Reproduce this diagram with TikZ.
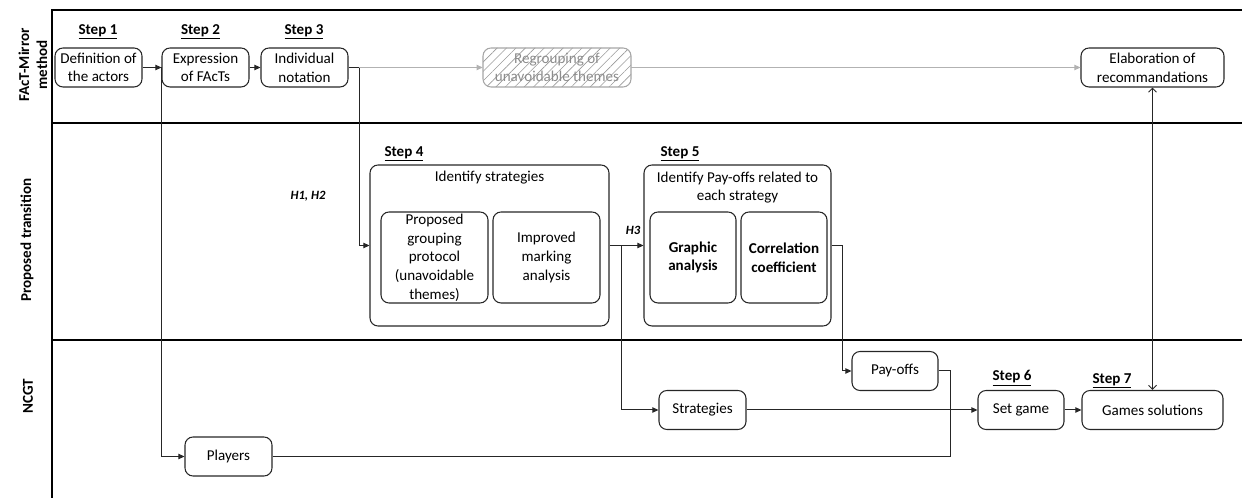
\documentclass[tikz,border=0pt]{standalone}
\usepackage{fontspec}
\setmainfont{Carlito}
\usetikzlibrary{arrows.meta,patterns.meta}

\begin{document}
\begin{tikzpicture}[x=0.75pt,y=-0.75pt,
  every node/.style={font=\fontsize{11.3}{14}\selectfont},
  boxw/.style={minimum width=#1*0.75pt},
  boxh/.style={minimum height=#1*0.75pt},
  box/.style={draw=black!85, line width=0.8pt, rounded corners=6pt, align=center,
    inner sep=0pt, minimum height=29.25pt},
  greybox/.style={box, draw=black!35, text=black!45,
    pattern={Lines[angle=45,distance=5pt,line width=0.45pt]}, pattern color=black!40},
  bold/.style={font=\fontsize{11.3}{14}\selectfont\bfseries},
  hyp/.style={font=\fontsize{9.5}{11}\selectfont\bfseries\itshape},
  lanelabel/.style={font=\fontsize{11.3}{13.5}\selectfont\bfseries, rotate=90, align=center},
  lane/.style={line width=2.2pt, black},
  line/.style={draw=black!85, line width=0.75pt},
  flow/.style={line, -{Triangle[length=4.5pt,width=4pt]}},
  greyflow/.style={draw=black!30, line width=0.75pt, -{Triangle[length=4.5pt,width=4pt]}},
  dflow/.style={line, {Straight Barb[length=3pt,width=6pt]}-{Straight Barb[length=3pt,width=6pt]}}]
  \useasboundingbox (0,0) rectangle (1242,498);

  % Lanes
  \draw[lane] (52,498) -- (52,10) -- (1242,10);
  \draw[lane] (52,123) -- (1242,123);
  \draw[lane] (52,340) -- (1242,340);
  \node[lanelabel] (lane1) at (33,65) {FAcT-Mirror\\method};
  \node[lanelabel] (lane2) at (27,240) {Proposed transition};
  \node[lanelabel] (lane3) at (28,396) {NCGT};

  % Step labels
  \node[bold] (s1) at (98,32) {\underline{Step 1}};
  \node[bold] (s2) at (200.5,32) {\underline{Step 2}};
  \node[bold] (s3) at (304,32) {\underline{Step 3}};
  \node[bold] (s4) at (404,154) {\underline{Step 4}};
  \node[bold] (s5) at (680,154) {\underline{Step 5}};
  \node[bold] (s6) at (1012,378) {\underline{Step 6}};
  \node[bold] (s7) at (1112,381) {\underline{Step 7}};

  % Top row: FAcT-Mirror method
  \node[box, boxw=87] (def) at (98.5,67.5) {Definition of\\the actors};
  \node[box, boxw=87] (expr) at (205.5,67.5) {Expression\\of FAcTs};
  \node[box, boxw=87] (indiv) at (304.5,67.5) {Individual\\notation};
  \node[greybox, boxw=148] (regroup) at (557,67.5) {Regrouping of\\unavoidable themes};
  \node[box, boxw=143] (elab) at (1152.5,67.5) {Elaboration of\\recommandations};

  % Middle row: proposed transition
  \node[box, boxw=239, boxh=161] (step4) at (489.5,245.5) {};
  \node (ident4) at (489.5,178) {Identify strategies};
  \node[box, boxw=107, boxh=91] (group) at (434.5,257.5) {Proposed\\grouping\\protocol\\(unavoidable\\themes)};
  \node[box, boxw=107, boxh=91] (mark) at (546.5,257.5) {Improved\\marking\\analysis};
  \node[box, boxw=187, boxh=161] (step5) at (737.5,245.5) {};
  \node[align=center] (ident5) at (737.5,187.5) {Identify Pay-offs related to\\each strategy};
  \node[box, bold, boxw=86, boxh=91] (graph) at (693,257.5) {Graphic\\analysis};
  \node[box, bold, boxw=86, boxh=91] (correl) at (784,257.5) {Correlation\\coefficient};
  \node[hyp] (h12) at (308,196) {H1, H2};
  \node[hyp] (h3) at (633,230) {H3};

  % Bottom row: NCGT
  \node[box, boxw=86] (payoffs) at (895,371) {Pay-offs};
  \node[box, boxw=87] (strat) at (702.5,410) {Strategies};
  \node[box, boxw=87] (players) at (228.5,456.5) {Players};
  \node[box, boxw=86] (setgame) at (1021,410) {Set game};
  \node[box, boxw=141] (games) at (1152.5,410) {Games solutions};

  % Turning points
  \coordinate (split1) at (161,67.5);
  \coordinate (split3) at (359,67.5);
  \coordinate (split4) at (621,245.5);
  \coordinate (turn5) at (842,245.5);
  \coordinate (merge) at (950,410);

  % Connectors
  \draw[flow] (def) -- (expr);
  \draw[flow] (expr) -- (indiv);
  \draw[flow] (split1) |- (players);
  \draw[line] (indiv) -- (split3);
  \draw[flow] (split3) |- (step4);
  \draw[greyflow] (split3) -- (regroup);
  \draw[greyflow] (regroup) -- (elab);
  \draw[flow] (step4) -- (step5);
  \draw[flow] (split4) |- (strat);
  \draw[flow] (step5) -- (turn5) |- (payoffs);
  \draw[line] (payoffs) -| (merge);
  \draw[line] (players) -| (merge);
  \draw[flow] (strat) -- (setgame);
  \draw[flow] (setgame) -- (games);
  \draw[dflow] (elab) -- (games);
\end{tikzpicture}
\end{document}
